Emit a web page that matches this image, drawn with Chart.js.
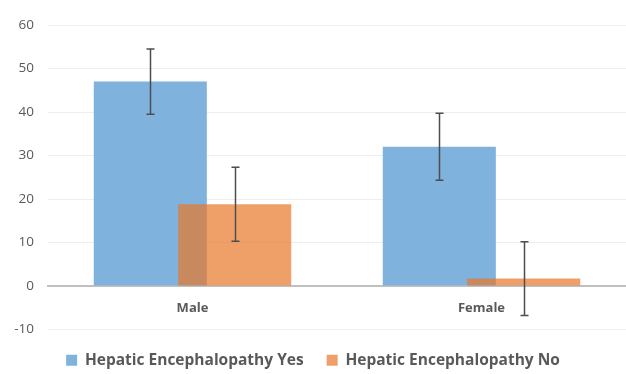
<!DOCTYPE html>
<html>
<head>
<meta charset="utf-8">
<script src="https://cdn.jsdelivr.net/npm/chart.js@4/dist/chart.umd.min.js"></script>
<style>
  html, body { margin: 0; padding: 0; background: #fff; }
  #wrap { width: 626px; height: 374px; }
</style>
</head>
<body>
<div id="wrap"><canvas id="heChart"></canvas></div>
<script>
const categories = ['Male', 'Female'];
const yesValues = [47, 32];
const yesErrors = [7.5, 7.7];
const noValues = [18.8, 1.7];
const noErrors = [8.5, 8.5];
const yTicks = [-10, 0, 10, 20, 30, 40, 50, 60];

const errorBars = {
    id: 'errorBars',
    beforeDatasetDraw(chart, args) {
        // draw the orange series after the blue one so it sits on top
        if (args.index === 1 && !chart.$lateDraw) return false;
    },
    afterDatasetsDraw(chart) {
        const ctx = chart.ctx;
        const yScale = chart.scales.y;
        chart.$lateDraw = true;
        ctx.save();
        chart.getDatasetMeta(1).controller.draw();
        ctx.restore();
        chart.$lateDraw = false;

        const errs = [yesErrors, noErrors];
        ctx.save();
        ctx.strokeStyle = '#4d4d4d';
        ctx.lineWidth = 1.5;
        chart.data.datasets.forEach((ds, di) => {
            const meta = chart.getDatasetMeta(di);
            meta.data.forEach((bar, i) => {
                const v = ds.data[i];
                const top = yScale.getPixelForValue(v + errs[di][i]);
                const bottom = yScale.getPixelForValue(v - errs[di][i]);
                const x = Math.round(bar.x) + 0.5;
                ctx.beginPath();
                ctx.moveTo(x, top);
                ctx.lineTo(x, bottom);
                ctx.moveTo(x - 4, top);
                ctx.lineTo(x + 4, top);
                ctx.moveTo(x - 4, bottom);
                ctx.lineTo(x + 4, bottom);
                ctx.stroke();
            });
        });
        ctx.restore();
    }
};

new Chart(document.getElementById('heChart'), {
    type: 'bar',
    data: {
        labels: categories,
        datasets: [{
            label: 'Hepatic Encephalopathy Yes',
            data: yesValues,
            backgroundColor: '#80b2de',
        }, {
            label: 'Hepatic Encephalopathy No',
            data: noValues,
            backgroundColor: 'rgba(232, 120, 40, 0.7)',
        }],
    },
    options: {
        responsive: true,
        maintainAspectRatio: false,
        animation: false,
        categoryPercentage: 0.584,
        barPercentage: 1.34,
        layout: { padding: { top: 25, right: 0, left: 0, bottom: -4 } },
        plugins: {
            tooltip: { enabled: false },
            legend: {
                position: 'bottom',
                labels: {
                    boxWidth: 11,
                    boxHeight: 11,
                    padding: 23,
                    color: '#595959',
                    font: { family: 'Open Sans', size: 15.5, weight: 'bold' },
                },
            },
        },
        scales: {
            x: {
                position: { y: 0 },
                grid: { display: true, color: 'transparent', drawTicks: false },
                border: { display: true, color: '#c0c0c0', width: 2 },
                ticks: {
                    padding: 14,
                    color: '#595959',
                    font: { family: 'Open Sans', size: 13, weight: 'bold' },
                },
            },
            y: {
                min: -10,
                max: 60,
                afterFit(scale) { scale.width = 48; },
                afterBuildTicks(scale) { scale.ticks = yTicks.map(v => ({ value: v })); },
                grid: { color: '#eeeeee', drawTicks: false },
                border: { display: false },
                ticks: {
                    padding: 14,
                    color: '#595959',
                    font: { family: 'Open Sans', size: 13.5 },
                },
            },
        },
    },
    plugins: [errorBars],
});
</script>
</body>
</html>
